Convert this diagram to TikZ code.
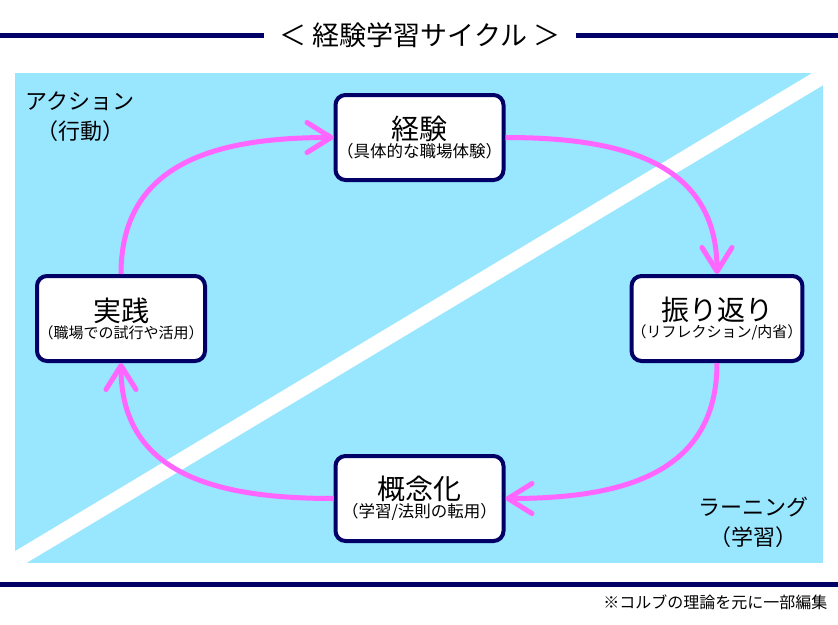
\documentclass[tikz,border=0pt]{standalone}
\usepackage{fontspec}
\setmainfont{Noto Sans CJK JP}
\usetikzlibrary{arrows.meta,positioning,calc}
\definecolor{navyline}{HTML}{000066}
\definecolor{skyfill}{HTML}{99E6FF}
\definecolor{pinkarrow}{HTML}{FF66FF}

\begin{document}
\begin{tikzpicture}[x=1pt,y=1pt]
\tikzstyle{stage} = [rectangle, draw=navyline, fill=white, line width=4pt, rounded corners=10pt, minimum width=168pt, minimum height=85pt, align=center, inner sep=0pt]
\tikzstyle{cycle} = [draw=pinkarrow, line width=5pt, -{Straight Barb[length=24pt, width=30pt, round]}]
\tikzstyle{rule} = [draw=navyline, line width=5pt]
\tikzstyle{corner} = [align=center, font=\fontsize{22}{30}\selectfont]

\useasboundingbox (0,0) rectangle (838,-624);

% Title with the two rules
\node [font=\fontsize{27}{30}\selectfont] (title) at (420,-35) {＜ 経験学習サイクル ＞};
\coordinate (ruleLeft) at (0,-35);
\coordinate (ruleRight) at (838,-35);
\draw [rule] (ruleLeft) -- ([xshift=-12pt]title.west);
\draw [rule] ([xshift=12pt]title.east) -- (ruleRight);

% Blue panel and white diagonal band
\fill [skyfill] (15,-73) rectangle (823,-563);
\begin{scope}
\clip (15,-73) rectangle (823,-563);
\draw [white, line width=16pt] (0,-569.5) -- (838,-66.9);
\end{scope}

% Corner labels
\node [corner] (action) at (80,-117) {アクション\\（行動）};
\node [corner] (learning) at (753,-522) {ラーニング\\（学習）};

% The four stages
\node [stage] (experience) at (419.5,-137.5) {{\fontsize{28}{30}\selectfont 経験}\\[1pt]{\fontsize{16.5}{19}\selectfont （具体的な職場体験）}};
\node [stage] (reflection) at (717,-318.5) {{\fontsize{28}{30}\selectfont 振り返り}\\[1pt]{\fontsize{15}{19}\selectfont （リフレクション/内省）}};
\node [stage] (concept) at (419.5,-498.5) {{\fontsize{28}{30}\selectfont 概念化}\\[1pt]{\fontsize{16.5}{19}\selectfont （学習/法則の転用）}};
\node [stage] (practice) at (121,-318.5) {{\fontsize{28}{30}\selectfont 実践}\\[1pt]{\fontsize{15}{19}\selectfont （職場での試行や活用）}};

% Cycle arrows
\draw [cycle] (practice.north) to[out=90, in=180, looseness=1.15] (experience.west);
\draw [cycle] (experience.east) to[out=0, in=90, looseness=1.15] (reflection.north);
\draw [cycle] (reflection.south) to[out=-90, in=0, looseness=1.15] (concept.east);
\draw [cycle] (concept.west) to[out=180, in=-90, looseness=1.15] (practice.south);

% Bottom rule and note
\coordinate (baseLeft) at (0,-584.5);
\coordinate (baseRight) at (838,-584.5);
\draw [rule] (baseLeft) -- (baseRight);
\node [anchor=east, font=\fontsize{16}{18}\selectfont] (note) at (831,-602) {※コルブの理論を元に一部編集};

\end{tikzpicture}
\end{document}
